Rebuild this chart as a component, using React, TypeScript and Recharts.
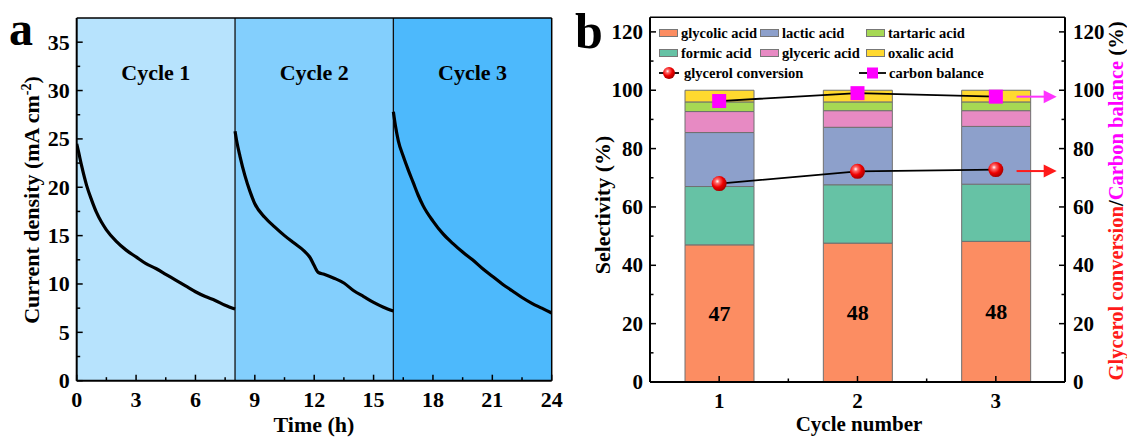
import React from "react";
import {
  LineChart,
  ComposedChart,
  Line,
  Bar,
  XAxis,
  YAxis,
  ReferenceArea,
  ReferenceLine,
  LabelList,
  Legend,
} from "recharts";

const FONT = '"Liberation Serif", "Times New Roman", serif';

// ---- panel a: current density during three 8 h cycles ----
const cycle1Time = [0, 0.1, 0.25, 0.5, 0.75, 1, 1.25, 1.5, 2, 2.5, 3, 3.5, 4, 4.5, 5, 5.5, 6, 6.5, 7, 7.5, 8];
const cycle1Current = [24.5, 23.6, 22.2, 20.2, 18.7, 17.4, 16.4, 15.6, 14.4, 13.5, 12.8, 12.1, 11.6, 11.0, 10.4, 9.8, 9.2, 8.7, 8.3, 7.8, 7.4];
const cycle2Time = [8, 8.1, 8.25, 8.5, 8.75, 9, 9.5, 10, 10.5, 11, 11.5, 11.8, 12, 12.2, 12.5, 13, 13.5, 14, 14.5, 15, 15.5, 16];
const cycle2Current = [25.8, 24.6, 23.2, 21.2, 19.6, 18.3, 16.9, 15.9, 15.0, 14.2, 13.4, 12.7, 11.9, 11.2, 11.0, 10.6, 10.1, 9.3, 8.7, 8.1, 7.6, 7.2];
const cycle3Time = [16, 16.1, 16.25, 16.5, 16.75, 17, 17.25, 17.5, 18, 18.5, 19, 19.5, 20, 20.5, 21, 21.5, 22, 22.5, 23, 23.5, 24];
const cycle3Current = [27.8, 26.4, 24.8, 23.2, 21.8, 20.5, 19.2, 18.1, 16.5, 15.2, 14.2, 13.3, 12.5, 11.6, 10.8, 10.0, 9.3, 8.6, 8.0, 7.5, 7.0];

const cycleLabels = ["Cycle 1", "Cycle 2", "Cycle 3"];
const cycleEdges = [0, 8, 16, 24];
const cycleFills = ["#B7E3FD", "#83CFFD", "#4DB9FC"];

const timeMajor = [0, 3, 6, 9, 12, 15, 18, 21, 24];
const timeMinor = [1.5, 4.5, 7.5, 10.5, 13.5, 16.5, 19.5, 22.5];
const currentMajor = [0, 5, 10, 15, 20, 25, 30, 35];
const currentMinor = [2.5, 7.5, 12.5, 17.5, 22.5, 27.5, 32.5];

// ---- panel b: product selectivity per cycle ----
const cycleNumbers = [1, 2, 3];
const glycolic = [47.0, 47.6, 48.2];
const formic = [20.0, 20.0, 19.6];
const lactic = [18.5, 19.7, 19.8];
const glyceric = [7.2, 5.7, 5.4];
const tartaric = [3.3, 3.0, 3.0];
const oxalic = [4.0, 4.0, 4.0];
const conversion = [68.0, 72.2, 72.8];
const carbonBalance = [96.3, 99.0, 97.8];

const stackKeys = ["glycolic", "formic", "lactic", "glyceric", "tartaric", "oxalic"];
const legendKeys = ["glycolic", "lactic", "tartaric", "formic", "glyceric", "oxalic"];
const productNames: Record<string, string> = {
  glycolic: "glycolic acid",
  formic: "formic acid",
  lactic: "lactic acid",
  glyceric: "glyceric acid",
  tartaric: "tartaric acid",
  oxalic: "oxalic acid",
};
const productColors: Record<string, string> = {
  glycolic: "#FC8D62",
  formic: "#66C2A5",
  lactic: "#8DA0CB",
  glyceric: "#E78AC3",
  tartaric: "#A6D854",
  oxalic: "#FFD92F",
};

const cycleTicks = [1, 2, 3];
const cycleMinor = [1.5, 2.5];
const pctMajor = [0, 20, 40, 60, 80, 100, 120];
const pctMinor = [10, 30, 50, 70, 90, 110];
const arrowFrom = 3.15;
const arrowTo = 3.44;

const toSeries = (times: number[], values: number[]) => times.map((t, i) => ({ t, j: values[i] }));

const selectivityData = cycleNumbers.map((c, i) => ({
  cycle: c,
  glycolic: glycolic[i],
  formic: formic[i],
  lactic: lactic[i],
  glyceric: glyceric[i],
  tartaric: tartaric[i],
  oxalic: oxalic[i],
  conversion: conversion[i],
  balance: carbonBalance[i],
}));

const textStyle = { fontFamily: FONT, fontWeight: "bold" as const, fill: "#000" };

// inward ticks, drawn by hand so minor ticks can be shorter
const leftTick = (majors: number[], fs: number) => (p: any) => {
  const major = majors.includes(p.payload.value);
  return (
    <g>
      <line x1={p.x} y1={p.y} x2={p.x + (major ? 6 : 3.5)} y2={p.y} stroke="#000" strokeWidth={1.5} />
      {major && (
        <text x={p.x - 7} y={p.y} dy="0.34em" textAnchor="end" fontSize={fs} {...textStyle}>
          {p.payload.value}
        </text>
      )}
    </g>
  );
};

const rightTick = (majors: number[], fs: number) => (p: any) => {
  const major = majors.includes(p.payload.value);
  return (
    <g>
      <line x1={p.x} y1={p.y} x2={p.x - (major ? 6 : 3.5)} y2={p.y} stroke="#000" strokeWidth={1.5} />
      {major && (
        <text x={p.x + 8} y={p.y} dy="0.34em" textAnchor="start" fontSize={fs} {...textStyle}>
          {p.payload.value}
        </text>
      )}
    </g>
  );
};

const bottomTick = (majors: number[], fs: number) => (p: any) => {
  const major = majors.includes(p.payload.value);
  return (
    <g>
      <line x1={p.x} y1={p.y} x2={p.x} y2={p.y - (major ? 6 : 3.5)} stroke="#000" strokeWidth={1.5} />
      {major && (
        <text x={p.x} y={p.y + 26} textAnchor="middle" fontSize={fs} {...textStyle}>
          {p.payload.value}
        </text>
      )}
    </g>
  );
};

function Sphere({ cx, cy, r, id }: { cx: number; cy: number; r: number; id: string }) {
  return (
    <g>
      <defs>
        <radialGradient id={id} cx="38%" cy="35%" r="65%">
          <stop offset="0%" stopColor="#ffffff" />
          <stop offset="22%" stopColor="#ff6a6a" />
          <stop offset="60%" stopColor="#ee0000" />
          <stop offset="100%" stopColor="#a80000" />
        </radialGradient>
      </defs>
      <circle cx={cx} cy={cy} r={r} fill={`url(#${id})`} />
    </g>
  );
}

const arrowShape = (color: string) => (p: any) => {
  const head = 13;
  return (
    <g>
      <line x1={p.x1} y1={p.y1} x2={p.x2 - head + 1} y2={p.y2} stroke={color} strokeWidth={2} />
      <polygon points={`${p.x2},${p.y2} ${p.x2 - head},${p.y2 - 6.5} ${p.x2 - head},${p.y2 + 6.5}`} fill={color} />
    </g>
  );
};

function SelectivityLegend() {
  const colX = [0, 101, 207];
  const rowY = [11.3, 31.3, 50.7];
  return (
    <div style={{ position: "relative", width: 420, height: 62, fontFamily: FONT, fontWeight: "bold", fontSize: 14.5, color: "#000" }}>
      {legendKeys.map((k, i) => {
        const x = colX[i % 3];
        const y = rowY[Math.floor(i / 3)];
        return (
          <React.Fragment key={k}>
            <div
              style={{
                position: "absolute",
                left: x,
                top: y - 4,
                width: 19,
                height: 8,
                boxSizing: "border-box",
                background: productColors[k],
                border: "1px solid #777",
              }}
            />
            <div style={{ position: "absolute", left: x + 22, top: y - 9, lineHeight: "18px", whiteSpace: "nowrap" }}>
              {productNames[k]}
            </div>
          </React.Fragment>
        );
      })}
      <svg style={{ position: "absolute", left: 0, top: rowY[2] - 7 }} width={20} height={14}>
        <line x1={0} y1={7} x2={20} y2={7} stroke="#000" strokeWidth={1.8} />
        <Sphere cx={10} cy={7} r={6} id="legend-sphere" />
      </svg>
      <div style={{ position: "absolute", left: 25, top: rowY[2] - 9, lineHeight: "18px", whiteSpace: "nowrap" }}>
        glycerol conversion
      </div>
      <svg style={{ position: "absolute", left: 200, top: rowY[2] - 7 }} width={27} height={14}>
        <line x1={0} y1={7} x2={27} y2={7} stroke="#000" strokeWidth={1.8} />
        <rect x={8} y={1.5} width={11} height={11} fill="#FF00FF" />
      </svg>
      <div style={{ position: "absolute", left: 230, top: rowY[2] - 9, lineHeight: "18px", whiteSpace: "nowrap" }}>
        carbon balance
      </div>
    </div>
  );
}

function CurrentPanel() {
  const series = [
    toSeries(cycle1Time, cycle1Current),
    toSeries(cycle2Time, cycle2Current),
    toSeries(cycle3Time, cycle3Current),
  ];
  return (
    <LineChart width={570} height={437} margin={{ top: 18, right: 18.3, bottom: 26.3, left: 36.7 }}>
      {cycleLabels.map((name, i) => (
        <ReferenceArea
          key={name}
          x1={cycleEdges[i]}
          x2={cycleEdges[i + 1]}
          fill={cycleFills[i]}
          fillOpacity={1}
          stroke="none"
          label={{ value: name, position: "insideTop", offset: 46, fontSize: 22, ...textStyle }}
        />
      ))}
      <XAxis
        type="number"
        dataKey="t"
        domain={[0, 24]}
        ticks={[...timeMajor, ...timeMinor].sort((a, b) => a - b)}
        height={30}
        tickSize={0}
        tickMargin={0}
        tickLine={false}
        axisLine={{ stroke: "#000", strokeWidth: 2 }}
        tick={bottomTick(timeMajor, 22)}
        interval={0}
        allowDataOverflow
      />
      <YAxis
        type="number"
        domain={[0, 37.5]}
        ticks={[...currentMajor, ...currentMinor].sort((a, b) => a - b)}
        width={40}
        tickSize={0}
        tickMargin={0}
        tickLine={false}
        axisLine={{ stroke: "#000", strokeWidth: 2 }}
        tick={leftTick(currentMajor, 22)}
        interval={0}
        allowDataOverflow
      />
      <ReferenceLine x={8} stroke="#111" strokeWidth={1.3} />
      <ReferenceLine x={16} stroke="#111" strokeWidth={1.3} />
      <ReferenceLine x={24} stroke="#000" strokeWidth={1.5} ifOverflow="visible" />
      <ReferenceLine y={37.5} stroke="#000" strokeWidth={1.5} ifOverflow="visible" />
      {series.map((d, i) => (
        <Line
          key={i}
          data={d}
          dataKey="j"
          type="monotone"
          stroke="#000"
          strokeWidth={3.2}
          dot={false}
          activeDot={false}
          isAnimationActive={false}
        />
      ))}
    </LineChart>
  );
}

function SelectivityPanel() {
  return (
    <ComposedChart
      width={567}
      height={437}
      data={selectivityData}
      margin={{ top: 17.3, right: 22, bottom: 25, left: 50 }}
    >
      <XAxis
        type="number"
        dataKey="cycle"
        domain={[0.5, 3.5]}
        ticks={[...cycleTicks, ...cycleMinor].sort((a, b) => a - b)}
        height={30}
        tickSize={0}
        tickMargin={0}
        tickLine={false}
        axisLine={{ stroke: "#000", strokeWidth: 2 }}
        tick={bottomTick(cycleTicks, 21)}
        interval={0}
      />
      <YAxis
        yAxisId="left"
        type="number"
        domain={[0, 125]}
        ticks={[...pctMajor, ...pctMinor].sort((a, b) => a - b)}
        width={40}
        tickSize={0}
        tickMargin={0}
        tickLine={false}
        axisLine={{ stroke: "#000", strokeWidth: 2 }}
        tick={leftTick(pctMajor, 21)}
        interval={0}
        allowDataOverflow
      />
      <YAxis
        yAxisId="right"
        orientation="right"
        type="number"
        domain={[0, 125]}
        ticks={[...pctMajor, ...pctMinor].sort((a, b) => a - b)}
        width={40}
        tickSize={0}
        tickMargin={0}
        tickLine={false}
        axisLine={{ stroke: "#000", strokeWidth: 2 }}
        tick={rightTick(pctMajor, 21)}
        interval={0}
        allowDataOverflow
      />
      <ReferenceLine yAxisId="left" y={125} stroke="#000" strokeWidth={1.5} ifOverflow="visible" />
      {stackKeys.map((k) => (
        <Bar
          key={k}
          yAxisId="left"
          dataKey={k}
          stackId="sel"
          barSize={69}
          fill={productColors[k]}
          stroke="#707070"
          strokeWidth={1}
          isAnimationActive={false}
        >
          {k === "glycolic" && (
            <LabelList
              dataKey="glycolic"
              position="center"
              formatter={(v: any) => Math.round(Number(v))}
              fontSize={22}
              {...textStyle}
            />
          )}
        </Bar>
      ))}
      <Line
        yAxisId="right"
        dataKey="balance"
        stroke="#000"
        strokeWidth={1.8}
        isAnimationActive={false}
        activeDot={false}
        dot={(p: any) => (
          <rect key={`cb-${p.index}`} x={p.cx - 7} y={p.cy - 7} width={14} height={14} fill="#FF00FF" />
        )}
      />
      <Line
        yAxisId="right"
        dataKey="conversion"
        stroke="#000"
        strokeWidth={1.8}
        isAnimationActive={false}
        activeDot={false}
        dot={(p: any) => <Sphere key={`gc-${p.index}`} cx={p.cx} cy={p.cy} r={7.5} id={`gc-sphere-${p.index}`} />}
      />
      <ReferenceLine
        yAxisId="right"
        segment={[
          { x: arrowFrom, y: carbonBalance[2] },
          { x: arrowTo, y: carbonBalance[2] },
        ]}
        shape={arrowShape("#FF33FF")}
      />
      <ReferenceLine
        yAxisId="right"
        segment={[
          { x: arrowFrom, y: conversion[2] - 0.5 },
          { x: arrowTo, y: conversion[2] - 0.5 },
        ]}
        shape={arrowShape("#FF1A1A")}
      />
      <Legend
        layout="horizontal"
        verticalAlign="middle"
        align="center"
        wrapperStyle={{ left: 99, top: 22, width: 420 }}
        content={() => <SelectivityLegend />}
      />
    </ComposedChart>
  );
}

export default function App() {
  return (
    <div style={{ position: "absolute", left: 0, top: 0, width: 1127, height: 437, background: "#fff", overflow: "hidden" }}>
      <div style={{ position: "absolute", left: 0, top: 0 }}>
        <CurrentPanel />
      </div>
      <div style={{ position: "absolute", left: 560, top: 0 }}>
        <SelectivityPanel />
      </div>
      <svg style={{ position: "absolute", left: 0, top: 0, pointerEvents: "none" }} width={1127} height={437}>
        <text x={9} y={45} fontSize={48} {...textStyle}>a</text>
        <text x={575} y={48} fontSize={50} {...textStyle}>b</text>
        <text transform="translate(31,200) rotate(-90)" textAnchor="middle" dy="0.35em" fontSize={22} {...textStyle}>
          Current density (mA cm
          <tspan dy={-8} fontSize={14}>-2</tspan>
          <tspan dy={8}>)</tspan>
        </text>
        <text x={314} y={432} textAnchor="middle" fontSize={22} {...textStyle}>Time (h)</text>
        <text transform="translate(602,205) rotate(-90)" textAnchor="middle" dy="0.35em" fontSize={22} {...textStyle}>
          Selectivity (%)
        </text>
        <text x={859} y={431} textAnchor="middle" fontSize={21} {...textStyle}>Cycle number</text>
        <text transform="translate(1116,201) rotate(-90)" textAnchor="middle" dy="0.35em" fontSize={20.5} {...textStyle}>
          <tspan fill="#FF1A1A">Glycerol conversion</tspan>
          <tspan fill="#000">/</tspan>
          <tspan fill="#FF00FF">Carbon balance</tspan>
          <tspan fill="#000"> (%)</tspan>
        </text>
      </svg>
    </div>
  );
}
